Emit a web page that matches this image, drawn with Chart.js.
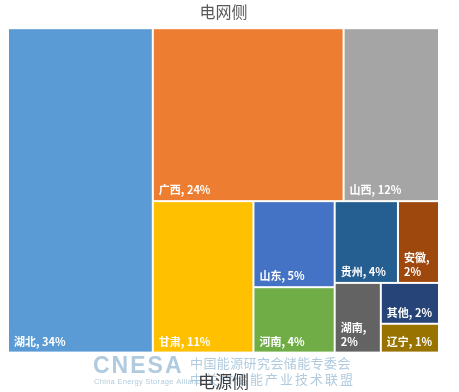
<!DOCTYPE html>
<html>
<head>
<meta charset="utf-8">
<script src="https://cdn.jsdelivr.net/npm/chart.js@4"></script>
<style>
  html, body { margin: 0; padding: 0; background: #fff; }
  #wrap { width: 459px; height: 392px; }
</style>
</head>
<body>
<div id="wrap"><canvas id="treemap"></canvas></div>
<script>
// provinces and their share of the grid-side total (%)
const names = ['湖北', '广西', '山西', '甘肃', '山东', '河南', '贵州', '安徽', '湖南', '其他', '辽宁'];
const shares = [33.6, 23.6, 11.8, 10.9, 5.0, 3.8, 3.7, 2.4, 2.3, 1.7, 1.2];
const colors = ['#5B9BD5', '#ED7D31', '#A5A5A5', '#FFC000', '#4472C4', '#70AD47',
                '#255E91', '#9E480E', '#636363', '#264478', '#997300'];

// how the tiles nest: 'h' = side by side, 'v' = stacked
const tree = ['h', 0, ['v', ['h', 1, 2], ['h', 3, ['v', 4, 5], ['v', ['h', 6, 7], ['h', 8, ['v', 9, 10]]]]]];

function total(node) {
  if (typeof node === 'number') return shares[node];
  return node.slice(1).reduce((s, n) => s + total(n), 0);
}

function layout(node, x0, y0, x1, y1, out) {
  if (typeof node === 'number') { out[node] = { x0, y0, x1, y1 }; return; }
  const sum = total(node);
  let pos = node[0] === 'h' ? x0 : y0;
  node.slice(1).forEach(k => {
    const f = total(k) / sum;
    if (node[0] === 'h') {
      const w = (x1 - x0) * f;
      layout(k, pos, y0, pos + w, y1, out);
      pos += w;
    } else {
      const h = (y1 - y0) * f;
      layout(k, x0, pos, x1, pos + h, out);
      pos += h;
    }
  });
}

const watermark = {
  id: 'watermark',
  beforeDraw(chart) {
    const ctx = chart.ctx;
    ctx.save();
    ctx.fillStyle = 'rgba(150,185,212,0.75)';
    ctx.textBaseline = 'alphabetic';
    ctx.textAlign = 'left';
    ctx.font = 'bold 23px "Liberation Sans"';
    ctx.letterSpacing = '2px';
    ctx.fillText('CNESA', 93, 373);
    ctx.font = '7.5px "Liberation Sans"';
    ctx.letterSpacing = '0.3px';
    ctx.fillText('China Energy Storage Alliance', 94, 384);
    ctx.font = '13px "Noto Sans CJK SC"';
    ctx.letterSpacing = '0.4px';
    ctx.fillText('中国能源研究会储能专委会', 190, 368);
    ctx.letterSpacing = '2px';
    ctx.fillText('中关村储能产业技术联盟', 190, 384);
    ctx.restore();
  }
};

const tiles = {
  id: 'tiles',
  afterDatasetsDraw(chart) {
    const { ctx, scales: { x, y } } = chart;
    const rects = [];
    layout(tree, 0, 0, 100, 100, rects);
    ctx.save();
    rects.forEach((r, i) => {
      const px0 = x.getPixelForValue(r.x0), px1 = x.getPixelForValue(r.x1);
      const py0 = y.getPixelForValue(r.y0), py1 = y.getPixelForValue(r.y1);
      ctx.fillStyle = colors[i];
      ctx.fillRect(px0 + 1, py0 + 1, px1 - px0 - 2, py1 - py0 - 2);

      ctx.font = 'bold 11px "Noto Sans CJK SC"';
      ctx.fillStyle = '#fff';
      ctx.textAlign = 'left';
      ctx.textBaseline = 'middle';
      const pct = Math.round(shares[i]) + '%';
      const full = names[i] + ', ' + pct;
      let lines = [full];
      if (ctx.measureText(full).width > px1 - px0 - 10) lines = [names[i] + ',', pct];
      lines.forEach((t, j) => {
        ctx.fillText(t, px0 + 6, py1 - 11 - (lines.length - 1 - j) * 14);
      });
    });
    ctx.restore();
  }
};

new Chart(document.getElementById('treemap'), {
  type: 'scatter',
  data: { datasets: [{ data: [] }] },
  options: {
    responsive: true,
    maintainAspectRatio: false,
    animation: false,
    layout: { padding: { left: 8, right: 20, top: 0, bottom: 0 } },
    scales: {
      x: { display: false, min: 0, max: 100 },
      y: { display: false, min: 0, max: 100, reverse: true }
    },
    plugins: {
      legend: { display: false },
      tooltip: { enabled: false },
      title: {
        display: true,
        text: '电网侧',
        color: '#595959',
        font: { family: '"Noto Sans CJK SC"', size: 16, weight: 'normal' },
        padding: { top: 2, bottom: 7 }
      },
      subtitle: {
        display: true,
        position: 'bottom',
        text: '电源侧',
        color: '#404040',
        font: { family: '"Noto Sans CJK SC"', size: 17, weight: 'normal' },
        padding: { top: 19, bottom: 0 }
      }
    }
  },
  plugins: [watermark, tiles]
});
</script>
</body>
</html>
